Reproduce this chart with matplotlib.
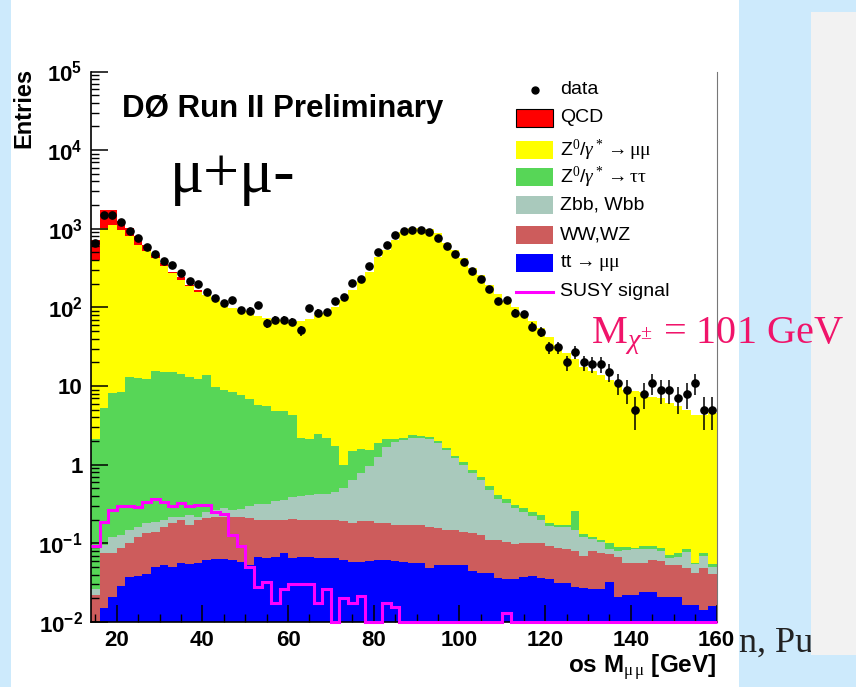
"""D0 os dimuon mass spectrum, stacked MC backgrounds vs data (slide screenshot)."""
import numpy as np
import matplotlib
matplotlib.use("Agg")
import matplotlib.pyplot as plt
from matplotlib.patches import Rectangle
from matplotlib.lines import Line2D
from matplotlib.ticker import MultipleLocator, LogLocator, NullFormatter

plt.rcParams['mathtext.fontset'] = 'custom'
plt.rcParams['mathtext.rm'] = 'Liberation Serif'
plt.rcParams['mathtext.it'] = 'Liberation Serif:italic'
plt.rcParams['mathtext.bf'] = 'Liberation Sans:bold'
plt.rcParams['mathtext.sf'] = 'Liberation Sans'

W, H = 856, 687

# 2 GeV bins from 14 to 160 GeV
edges = np.arange(14, 162, 2)
centers = edges[:-1] + 1

data = [658, 1507, 1507, 1217, 951, 762, 585, 481, 384, 348, 278, 218, 200, 155,
        131, 113, 125, 93, 91, 108, 63, 70, 70, 66, 51, 98, 86, 87,
        121, 136, 206, 233, 335, 514, 631, 822, 935, 963, 963, 916, 753, 596, 481,
        373, 290, 233, 174, 122, 125, 85, 82, 57, 49, 31, 31,
        20, 27, 20, 19, 19, 15, 11, 9, 5, 8, 11, 9, 9, 7, 8, 11, 5, 5]

# cumulative stack tops (each layer includes everything below it)
zmm_top = [404, 1020, 1124, 971, 798, 626, 525, 424, 338, 273, 224, 185, 159, 145,
           125, 108, 98, 93, 89, 77, 73, 71, 70, 66, 68, 72, 80, 86,
           100, 125, 165, 214, 286, 440, 540, 720, 920, 1020, 1020, 985, 880, 650, 530,
           420, 320, 255, 195, 150, 120, 100, 82, 68, 55, 42, 33,
           26, 22, 17.5, 15.5, 14, 12, 10.4, 9.0, 8.6, 8.4, 7.3, 7.0, 6.1, 5.5, 5.0, 4.3, 4.3, 4.6]
qcd_low = [724, 1710, 1710, 1238, 1020, 798, 626, 467, 366, 286, 243, 194, 167]
qcd_top = qcd_low + zmm_top[len(qcd_low):]
ztt_top = [2.1, 5.2, 8.1, 8.5, 13.0, 12.6, 12.2, 15.7, 14.9, 15.3, 14.2, 13.0, 12.2, 13.8,
           9.7, 8.9, 8.4, 7.6, 6.8, 5.8, 5.5, 4.8, 4.8, 4.3, 2.17, 2.13, 2.44, 2.17,
           1.73, 0.99, 1.5, 1.6, 1.55, 1.9, 2.1, 2.15, 2.2, 2.39, 2.3, 2.25, 2.0, 1.65, 1.3,
           1.07, 0.86, 0.70, 0.53, 0.41, 0.37, 0.31, 0.28, 0.25, 0.23, 0.18, 0.17,
           0.17, 0.26, 0.13, 0.12, 0.11, 0.10, 0.091, 0.091, 0.087, 0.092, 0.092, 0.087,
           0.071, 0.075, 0.084, 0.057, 0.075, 0.055]
zbb_top = [0.026, 0.095, 0.122, 0.128, 0.148, 0.163, 0.18, 0.189, 0.2, 0.219, 0.215, 0.23,
           0.219, 0.253, 0.268, 0.28, 0.265, 0.27, 0.30, 0.315, 0.32, 0.35, 0.355, 0.386,
           0.40, 0.41, 0.42, 0.43, 0.45, 0.50, 0.64, 0.78, 0.95, 1.27, 1.70, 1.97, 2.07,
           2.2, 2.2, 2.1, 1.9, 1.55, 1.2, 0.98, 0.78, 0.63, 0.48, 0.37, 0.33, 0.28, 0.25,
           0.225, 0.2, 0.165, 0.163, 0.16, 0.15, 0.122, 0.115, 0.105, 0.086, 0.081, 0.082,
           0.084, 0.086, 0.084, 0.08, 0.066, 0.068, 0.078, 0.054, 0.07, 0.05]
wwwz_top = [0.022, 0.075, 0.075, 0.087, 0.1, 0.122, 0.135, 0.14, 0.163, 0.18, 0.2, 0.17,
            0.2, 0.21, 0.215, 0.217, 0.217, 0.215, 0.21, 0.2, 0.2, 0.2, 0.2, 0.205,
            0.2, 0.2, 0.2, 0.2, 0.2, 0.19, 0.18, 0.19, 0.19, 0.18, 0.18, 0.17, 0.17,
            0.17, 0.17, 0.16, 0.155, 0.148, 0.148, 0.14, 0.135, 0.128, 0.11, 0.11, 0.105,
            0.098, 0.1, 0.1, 0.1, 0.092, 0.088, 0.086, 0.08, 0.069, 0.081, 0.075, 0.073,
            0.068, 0.057, 0.057, 0.057, 0.0615, 0.06, 0.053, 0.053, 0.048, 0.042, 0.048, 0.041]
tt_top = [0.005, 0.0149, 0.021, 0.0287, 0.0377, 0.0385, 0.0405, 0.0506, 0.053, 0.0506,
          0.056, 0.055, 0.057, 0.0615, 0.063, 0.063, 0.0615, 0.058, 0.053, 0.068, 0.065,
          0.068, 0.075, 0.065, 0.068, 0.068, 0.065, 0.065, 0.065, 0.062, 0.058, 0.058,
          0.06, 0.062, 0.062, 0.06, 0.058, 0.056, 0.056, 0.048, 0.053, 0.053, 0.053,
          0.053, 0.044, 0.042, 0.042, 0.036, 0.035, 0.035, 0.037, 0.038, 0.036, 0.035,
          0.031, 0.031, 0.028, 0.027, 0.026, 0.026, 0.032, 0.021, 0.022, 0.022, 0.024,
          0.024, 0.021, 0.021, 0.021, 0.0165, 0.0165, 0.0142, 0.016]
susy = [0.093, 0.185, 0.266, 0.30, 0.30, 0.29, 0.34, 0.366, 0.34, 0.30, 0.33, 0.30, 0.31,
        0.31, 0.249, 0.236, 0.128, 0.093, 0.0497, 0.0276, 0.0326, 0.0176, 0.026, 0.0304,
        0.03, 0.03, 0.0176, 0.026, 0, 0.0202, 0.0176, 0.0214, 0, 0, 0.0176, 0.0157,
        0, 0, 0, 0, 0, 0, 0, 0, 0, 0, 0, 0, 0.0129, 0, 0, 0, 0, 0, 0,
        0, 0, 0, 0, 0, 0, 0, 0, 0, 0, 0, 0, 0, 0, 0, 0, 0, 0]

layers = [(qcd_top, '#ff0000', 'QCD'),
          (zmm_top, '#ffff00', r'Z$^0$/$\gamma^*\rightarrow\mathrm{\mu\mu}$'),
          (ztt_top, '#57d657', r'Z$^0$/$\gamma^*\rightarrow\mathrm{\tau\tau}$'),
          (zbb_top, '#a9c9bc', 'Zbb, Wbb'),
          (wwwz_top, '#cd5c5c', 'WW,WZ'),
          (tt_top, '#0000ff', r'tt$\,\rightarrow\mathrm{\mu\mu}$')]


def fx(x):
    return x / W


def fy(y):
    return 1 - y / H


fig = plt.figure(figsize=(W / 100, H / 100), dpi=100)
fig.patch.set_facecolor('#cdeafc')
fig.patches.append(Rectangle((fx(11), 0), fx(739) - fx(11), 1, transform=fig.transFigure,
                             facecolor='white', edgecolor='none', zorder=0.5))
fig.text(fx(739), fy(652), 'n, Pu', family='Liberation Serif', fontsize=26,
         color='#222222', va='baseline', ha='left', zorder=1.5)
fig.patches.append(Rectangle((fx(811), fy(655)), fx(856) - fx(811), fy(12) - fy(655),
                             transform=fig.transFigure, facecolor='#f2f2f2',
                             edgecolor='none', zorder=2))

ax = fig.add_axes([fx(91), fy(622), fx(716.5) - fx(91), fy(71.5) - fy(622)], zorder=3)
ax.set_facecolor('none')
ax.set_yscale('log')
ax.set_xlim(14, 160)
ax.set_ylim(1e-2, 1e5)

for vals, col, _ in layers:
    ax.stairs(vals, edges, baseline=1e-4, fill=True, color=col, lw=0)
ax.stairs(np.clip(susy, 1e-2, None), edges, baseline=None, color='#ff00ff', lw=2.2,
          clip_on=False, zorder=4)

data = np.array(data, dtype=float)
ax.errorbar(centers, data, yerr=np.sqrt(data), fmt='o', color='black', ms=5.2,
            elinewidth=1.1, capsize=0, zorder=5)

# axes styling (ROOT look)
ax.spines['top'].set_visible(False)
ax.spines['right'].set_color('#777777')
ax.spines['left'].set_linewidth(1.2)
ax.spines['bottom'].set_linewidth(1.2)
ax.xaxis.set_minor_locator(MultipleLocator(5))
ax.set_xticks(range(20, 161, 20))
ax.set_xticklabels([str(v) for v in range(20, 161, 20)])
ax.yaxis.set_minor_locator(LogLocator(base=10, subs=np.arange(2, 10), numticks=20))
ax.yaxis.set_minor_formatter(NullFormatter())
ylabels = [r'$\mathbf{10^{-2}}$', r'$\mathbf{10^{-1}}$', '1', '10',
           r'$\mathbf{10^{2}}$', r'$\mathbf{10^{3}}$', r'$\mathbf{10^{4}}$', r'$\mathbf{10^{5}}$']
ax.set_yticks([1e-2, 1e-1, 1, 10, 1e2, 1e3, 1e4, 1e5])
ax.set_yticklabels(ylabels)
ax.tick_params(which='major', direction='in', length=12, width=1.1,
               right=False, top=False, labelsize=16, pad=6)
ax.tick_params(which='minor', direction='in', length=6, width=1.0, right=False, top=False)
for lab in ax.get_xticklabels() + ax.get_yticklabels():
    lab.set_fontfamily(['Liberation Sans', 'DejaVu Sans'])
    lab.set_fontweight('bold')

fig.text(fx(24), fy(68), 'Entries', rotation=90, ha='center', va='top',
         family='Liberation Sans', fontweight='bold', fontsize=17)
fig.text(fx(716), fy(673), r'os M$_{\mathrm{\mu\,\mu}}$ [GeV]', ha='right', va='baseline',
         family='Liberation Sans', fontweight='bold', fontsize=17.5, zorder=5)
fig.text(fx(122), fy(117), 'DØ Run II Preliminary', ha='left', va='baseline',
         family='Liberation Sans', fontweight='bold', fontsize=22.5, zorder=5)
fig.text(fx(170), fy(192), 'μ+μ-', ha='left', va='baseline',
         family='Liberation Serif', fontsize=46, zorder=5)
fig.text(fx(591), fy(343), r'M$_{\chi^{\pm}}$ = 101 GeV', ha='left', va='baseline',
         family='Liberation Serif', fontsize=29, color='#f0146a', zorder=6)

# legend, drawn by hand in pixel positions
rows = [90, 118, 150, 177, 205, 235, 263, 292]
fig.lines.append(Line2D([fx(535)], [fy(rows[0])], marker='o', ms=5, color='black',
                        transform=fig.transFigure, zorder=5))
fig.text(fx(560), fy(rows[0]), 'data', va='center', family='Liberation Sans',
         fontsize=14, zorder=5)
for (vals, col, lab), y in zip(layers, rows[1:7]):
    ec = 'black' if lab == 'QCD' else 'none'
    fig.patches.append(Rectangle((fx(516), fy(y + 9)), fx(553) - fx(516), fy(y - 9) - fy(y + 9),
                                 transform=fig.transFigure, facecolor=col, edgecolor=ec,
                                 lw=0.8, zorder=5))
    fig.text(fx(560), fy(y), lab, va='center', family='Liberation Sans', fontsize=14,
             zorder=5)
fig.lines.append(Line2D([fx(516), fx(553)], [fy(rows[7]), fy(rows[7])], color='#ff00ff',
                        lw=2.2, transform=fig.transFigure, zorder=5))
fig.text(fx(560), fy(rows[7]), 'SUSY signal', va='center', family='Liberation Sans',
         fontsize=14, zorder=5)

fig.savefig('out.png', dpi=100)
